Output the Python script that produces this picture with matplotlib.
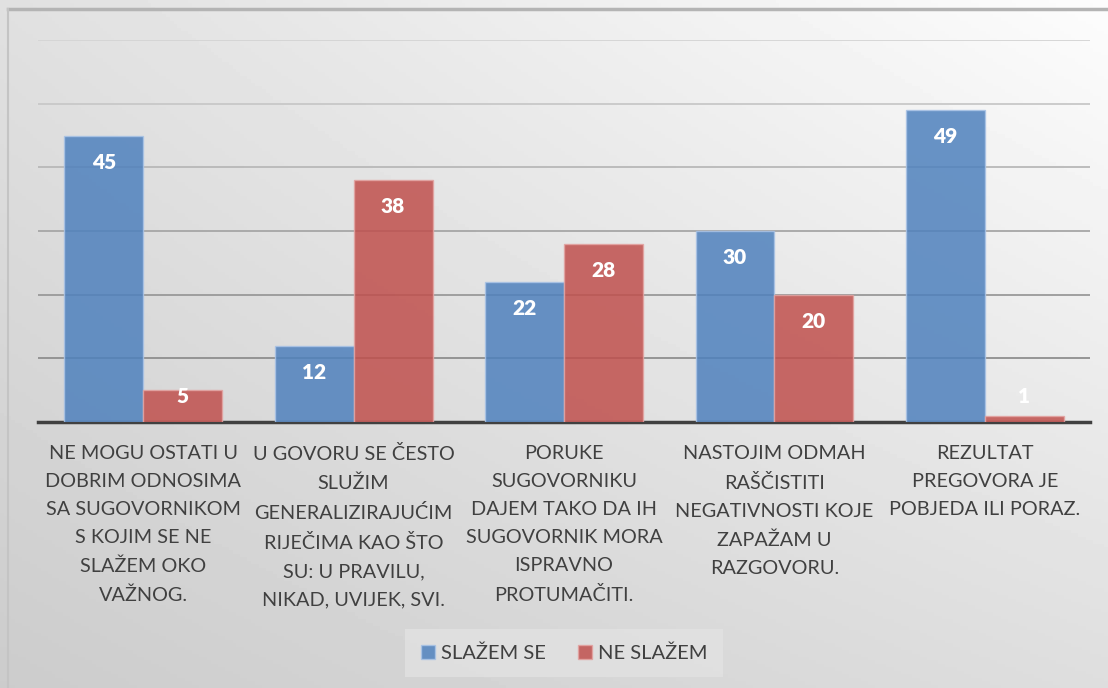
import matplotlib.pyplot as plt
import numpy as np

# Data
categories = [
    "NE MOGU OSTATI U\nDOBRIM ODNOSIMA\nSA SUGOVORNIKOM\nS KOJIM SE NE\nSLAŽEM OKO\nVAŽNOG.",
    "U GOVORU SE ČESTO\nSLUŽIM\nGENERALIZIRAJUĆIM\nRIJEČIMA KAO ŠTO\nSU: U PRAVILU,\nNIKAD, UVIJEK, SVI.",
    "PORUKE\nSUGOVORNIKU\nDAJEM TAKO DA IH\nSUGOVORNIK MORA\nISPRAVNO\nPROTUMAČITI.",
    "NASTOJIM ODMAH\nRAŠČISTITI\nNEGATIVNOSTI KOJE\nZAPAŽAM U\nRAZGOVORU.",
    "REZULTAT\nPREGOVORA JE\nPOBJEDA ILI PORAZ.",
]
slazem_se = [45, 12, 22, 30, 49]
ne_slazem = [5, 38, 28, 20, 1]
series_names = ["SLAŽEM SE", "NE SLAŽEM"]

blue = "#4f81bd"
red = "#c0504d"
text_color = "#404040"
font = "Lato"

fig = plt.figure(figsize=(11.08, 6.88), dpi=100)

# background gradient (light top-right, darker bottom-left)
bg = fig.add_axes([0, 0, 1, 1], zorder=-10)
yy, xx = np.mgrid[0:1:200j, 0:1:300j]
g = 0.80 + 0.07 * xx + 0.12 * yy - 0.04 * (1 - xx) * yy
bg.imshow(np.clip(g, 0, 1), cmap="gray", vmin=0, vmax=1, extent=[0, 1, 0, 1],
          aspect="auto", origin="lower")
bg.set_xlim(0, 1)
bg.set_ylim(0, 1)
bg.axis("off")
# outer frame lines (top & left)
bg.plot([8 / 1108, 1], [1 - 9 / 688, 1 - 9 / 688], color="#b4b4b4", lw=2.5)
bg.plot([8 / 1108, 8 / 1108], [0, 1 - 9 / 688], color="#c4c4c4", lw=1.5)

ax = fig.add_axes([38 / 1108, 1 - 422 / 688, 1052 / 1108, 382 / 688])
ax.patch.set_alpha(0)

x = np.arange(len(categories))
w = 0.375
b1 = ax.bar(x - w / 2, slazem_se, w, color=blue, alpha=0.85, edgecolor="#a9c3e6",
            linewidth=1, label=series_names[0], zorder=3)
b2 = ax.bar(x + w / 2, ne_slazem, w, color=red, alpha=0.85, edgecolor="#e3a3a1",
            linewidth=1, label=series_names[1], zorder=3)

for bars, vals in ((b1, slazem_se), (b2, ne_slazem)):
    for rect, v in zip(bars, vals):
        ax.text(rect.get_x() + rect.get_width() / 2, max(v - 4.2, 4.0), str(v),
                ha="center", va="center", color="white", fontsize=15,
                fontweight="heavy", family=font, zorder=5)

ax.set_xlim(-0.5, len(categories) - 0.5)
ax.set_ylim(0, 60)
ax.set_yticks([])
grid_colors = ["#8e8e8e", "#999999", "#a6a6a6", "#b8b8b8", "#c8c8c8", "#d4d4d4"]
for lvl, c in zip(range(10, 61, 10), grid_colors):
    ax.axhline(lvl, color=c, lw=1.3, zorder=0)
ax.tick_params(left=False, labelleft=False, bottom=False, labelbottom=False)
for s in ("top", "right", "left"):
    ax.spines[s].set_visible(False)
ax.spines["bottom"].set_color("#404040")
ax.spines["bottom"].set_linewidth(2.5)

for i, lab in enumerate(categories):
    ax.text(i, -3.55, lab, ha="center", va="top", fontsize=14.3, color=text_color,
            family=font, linespacing=1.8, clip_on=False)

leg = fig.legend(handles=[b1, b2], labels=series_names, loc="center",
                 bbox_to_anchor=(564 / 1108, 1 - 653 / 688), ncol=2,
                 frameon=True, fancybox=False,
                 prop={"family": font, "size": 14.5}, handlelength=0.7,
                 handleheight=0.7, handletextpad=0.3, columnspacing=1.6,
                 borderpad=0.75, borderaxespad=0)
leg.get_frame().set_facecolor("#e2e2e2")
leg.get_frame().set_edgecolor("none")
for t in leg.get_texts():
    t.set_color(text_color)

fig.savefig("out.png", dpi=100)
